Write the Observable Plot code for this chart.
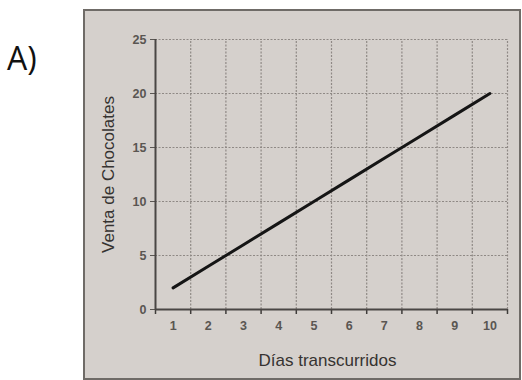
<!DOCTYPE html>
<html>
<head>
<meta charset="utf-8">
<script src="https://cdn.jsdelivr.net/npm/d3@7"></script>
<script src="https://cdn.jsdelivr.net/npm/@observablehq/plot@0.6"></script>
<style>
  html, body { margin: 0; padding: 0; background: #ffffff; }
  #page { position: relative; width: 522px; height: 380px; overflow: hidden; }
  #tag { position: absolute; left: 7px; top: 42px; font-family: "Open Sans", "DejaVu Sans", sans-serif; font-size: 32px; color: #111; line-height: 1; }
  #box { position: absolute; left: 83px; top: 9px; width: 434px; height: 367px; border: 2px solid #6f6b67; background: #d5d0cc; }
  #box svg { display: block; }
</style>
</head>
<body>
<div id="page">
  <div id="tag">A)</div>
  <div id="box"></div>
</div>
<script>
const days = [1, 2, 3, 4, 5, 6, 7, 8, 9, 10];
const ventas = [2, 4, 6, 8, 10, 12, 14, 16, 18, 20];
const yTicks = [0, 5, 10, 15, 20, 25];
const dayBounds = [0.5, 1.5, 2.5, 3.5, 4.5, 5.5, 6.5, 7.5, 8.5, 9.5, 10.5];
const xTitle = "Días transcurridos";
const yTitle = "Venta de Chocolates";

const data = days.map((d, i) => ({dia: d, venta: ventas[i]}));

const chart = Plot.plot({
  width: 434,
  height: 367,
  marginLeft: 70,
  marginRight: 12,
  marginTop: 28,
  marginBottom: 69,
  x: {domain: [0.5, 10.5]},
  y: {domain: [0, 25]},
  style: {background: "transparent", fontFamily: "'Liberation Sans', Arial, sans-serif"},
  marks: [
    Plot.ruleY(yTicks.filter(d => d > 0), {x1: 0.5, x2: 10.5, stroke: "#8f8985", strokeWidth: 1.2, strokeDasharray: "2,1.5"}),
    Plot.ruleX(dayBounds.filter(d => d > 0.5), {y1: 0, y2: 25, stroke: "#8f8985", strokeWidth: 1.2, strokeDasharray: "2,1.5"}),
    Plot.axisY(yTicks, {tickSize: 5, tickPadding: 4, fontSize: 12.5, fontWeight: "bold", color: "#5a5652", label: null}),
    Plot.axisX(days, {tickSize: 0, tickPadding: 12, fontSize: 12.5, fontWeight: "bold", color: "#5a5652", label: null}),
    Plot.axisX(dayBounds, {tickSize: 5, tickFormat: () => "", color: "#3f3c3a", strokeWidth: 1.5, label: null}),
    Plot.ruleX([0.5], {y1: 0, y2: 25, stroke: "#4a4644", strokeWidth: 2}),
    Plot.ruleY([0], {x1: 0.5, x2: 10.5, stroke: "#4a4644", strokeWidth: 2}),
    Plot.line(data, {x: "dia", y: "venta", stroke: "#151515", strokeWidth: 3}),
    Plot.text([xTitle], {frameAnchor: "bottom", dy: 51, dx: -4, fontSize: 17, fill: "#363331", lineAnchor: "middle", textAnchor: "middle"}),
    Plot.text([yTitle], {frameAnchor: "left", dx: -47, rotate: -90, fontSize: 17, fill: "#363331", lineAnchor: "middle", textAnchor: "middle"})
  ]
});
document.getElementById("box").appendChild(chart);
</script>
</body>
</html>
